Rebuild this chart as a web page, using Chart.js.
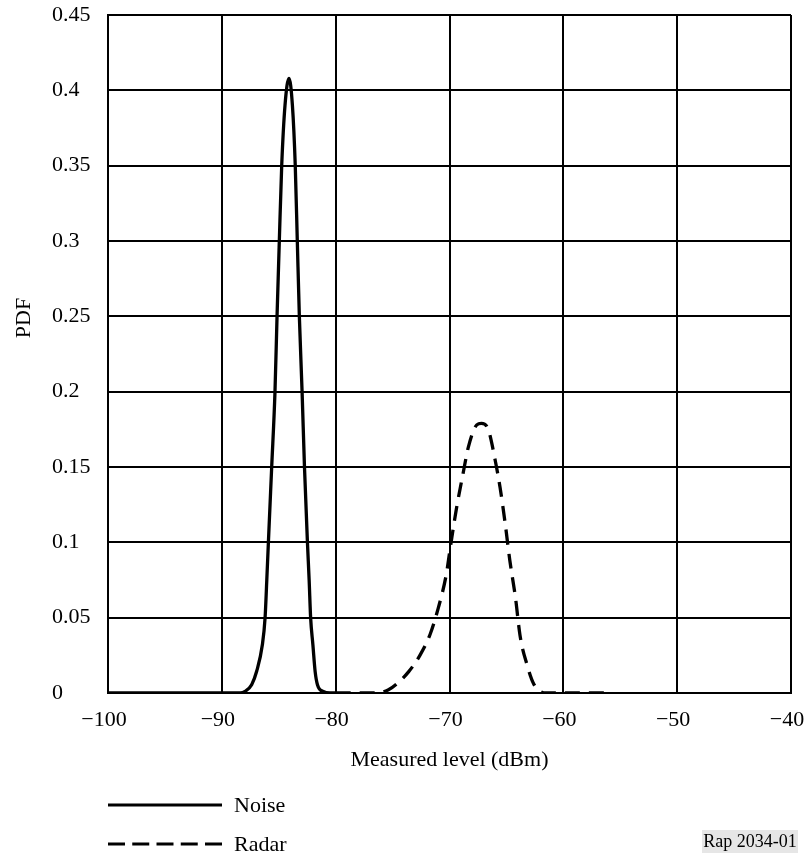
<!DOCTYPE html>
<html>
<head>
<meta charset="utf-8">
<title>PDF of measured level</title>
<script src="https://cdn.jsdelivr.net/npm/chart.js@4.4.1/dist/chart.umd.min.js"></script>
<style>
  html, body { margin: 0; padding: 0; background: #fff; }
  #wrap { width: 804px; height: 855px; }
</style>
</head>
<body>
<div id="wrap"><canvas id="pdf-chart" width="804" height="855"></canvas></div>
<script>
// values (dBm, PDF)
var noiseLevel = [-100, -95, -90, -88.4, -87.96, -87.38, -86.94, -86.44, -86.2, -86.05, -85.91, -85.62, -85.33, -85.15, -84.95, -84.74, -84.45, -84.1,
                  -83.8, -83.55, -83.37, -83.19, -82.95, -82.74, -82.48, -82.33, -82.2, -82.0, -81.8, -81.6, -81.1, -80.5, -80];
var noisePdf   = [0, 0, 0, 0, 0.001, 0.0055, 0.0144, 0.032, 0.05, 0.075, 0.1, 0.15, 0.2, 0.25, 0.3, 0.35, 0.39, 0.408,
                  0.39, 0.35, 0.3, 0.25, 0.2, 0.15, 0.1, 0.075, 0.05, 0.032, 0.014, 0.0055, 0.001, 0, 0];

var radarLevel = [-80, -78, -76.5, -75.4, -74.5, -73.6, -72.6, -71.7, -71.0, -70.3, -69.9, -69.4, -68.8, -68.35, -67.6, -67.2,
                  -66.6, -66.0, -65.55, -65.1, -64.7, -64.2, -63.8, -63.2, -62.6, -62.0, -61.5, -56];
var radarPdf   = [0, 0, 0, 0.002, 0.007, 0.014, 0.025, 0.039, 0.056, 0.078, 0.098, 0.122, 0.146, 0.163, 0.178, 0.179,
                  0.175, 0.155, 0.136, 0.112, 0.088, 0.063, 0.038, 0.019, 0.006, 0.001, 0, 0];

var seriesNames = ['Noise', 'Radar'];
var xTickLabels = ['\u2212100', '\u221290', '\u221280', '\u221270', '\u221260', '\u221250', '\u221240'];
var yTickLabels = ['0', '0.05', '0.1', '0.15', '0.2', '0.25', '0.3', '0.35', '0.4', '0.45'];

var serif = '"Liberation Serif", "Times New Roman", serif';

function toPoints(xs, ys) {
  var pts = [];
  for (var i = 0; i < xs.length; i++) pts.push({ x: xs[i], y: ys[i] });
  return pts;
}

// y title, legend and figure tag are drawn here
var extraText = {
  id: 'extraText',
  afterDraw: function (chart) {
    var ctx = chart.ctx;
    ctx.save();
    ctx.fillStyle = '#000';
    ctx.font = '22px ' + serif;

    // y axis title
    ctx.save();
    ctx.translate(24, 318);
    ctx.rotate(-Math.PI / 2);
    ctx.textAlign = 'center';
    ctx.textBaseline = 'middle';
    ctx.fillText('PDF', 0, 0);
    ctx.restore();

    // legend
    var rows = [805, 844];
    var dashes = [[], [17, 7.25]];
    chart.data.datasets.forEach(function (ds, i) {
      ctx.beginPath();
      ctx.setLineDash(dashes[i]);
      ctx.lineWidth = 3;
      ctx.strokeStyle = '#000';
      ctx.moveTo(108, rows[i]);
      ctx.lineTo(222, rows[i]);
      ctx.stroke();
      ctx.setLineDash([]);
      ctx.textAlign = 'left';
      ctx.textBaseline = 'middle';
      ctx.fillText(ds.label, 234, rows[i] + 1);
    });

    // figure tag
    ctx.fillStyle = '#e6e6e6';
    ctx.fillRect(702, 830, 96, 23);
    ctx.fillStyle = '#000';
    ctx.font = '18px ' + serif;
    ctx.textAlign = 'center';
    ctx.textBaseline = 'middle';
    ctx.fillText('Rap 2034-01', 750, 842);
    ctx.restore();
  }
};

new Chart(document.getElementById('pdf-chart'), {
  type: 'line',
  data: {
    datasets: [
      {
        label: seriesNames[0],
        data: toPoints(noiseLevel, noisePdf),
        borderColor: '#000',
        borderWidth: 3.3,
        pointRadius: 0,
        cubicInterpolationMode: 'monotone',
        fill: false
      },
      {
        label: seriesNames[1],
        data: toPoints(radarLevel, radarPdf),
        borderColor: '#000',
        borderWidth: 3.3,
        borderDash: [15, 9],
        pointRadius: 0,
        cubicInterpolationMode: 'monotone',
        fill: false
      }
    ]
  },
  options: {
    responsive: false,
    animation: false,
    devicePixelRatio: 1,
    layout: { padding: { left: 52, top: 15, right: 13, bottom: 0 } },
    plugins: {
      legend: { display: false },
      tooltip: { enabled: false }
    },
    scales: {
      x: {
        type: 'linear',
        min: -100,
        max: -40,
        afterFit: function (scale) {
          scale.height = 162;
          scale.paddingLeft = 0;
          scale.paddingRight = 0;
        },
        ticks: {
          stepSize: 10,
          padding: 14,
          labelOffset: -4,
          color: '#000',
          font: { family: serif, size: 22 },
          maxRotation: 0,
          callback: function (v, i) { return xTickLabels[i]; }
        },
        grid: { color: '#000', lineWidth: 2, drawTicks: false },
        border: { color: '#000', width: 2 },
        title: {
          display: true,
          text: 'Measured level (dBm)',
          color: '#000',
          font: { family: serif, size: 22 },
          padding: { top: 0, bottom: 82 }
        }
      },
      y: {
        min: 0,
        max: 0.45,
        afterFit: function (scale) { scale.width = 56; },
        ticks: {
          stepSize: 0.05,
          crossAlign: 'far',
          padding: 0,
          color: '#000',
          font: { family: serif, size: 22 },
          callback: function (v, i) { return yTickLabels[i]; }
        },
        grid: { color: '#000', lineWidth: 2, drawTicks: false },
        border: { color: '#000', width: 2 }
      }
    }
  },
  plugins: [extraText]
});
</script>
</body>
</html>
